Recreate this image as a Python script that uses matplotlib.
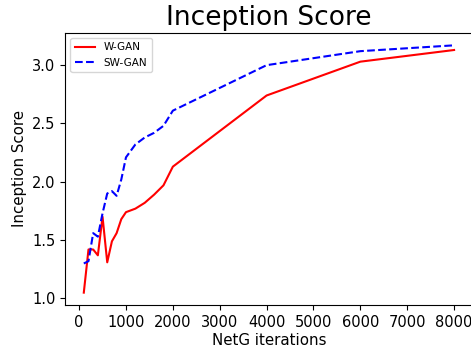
import matplotlib
matplotlib.use("Agg")
import matplotlib.pyplot as plt

# iterations
iters = [100, 200, 300, 400, 500, 600, 700, 800, 900, 1000,
         1200, 1400, 1600, 1800, 2000, 4000, 6000, 8000]
wgan = [1.05, 1.42, 1.42, 1.37, 1.70, 1.31, 1.49, 1.56, 1.68, 1.74,
        1.77, 1.82, 1.89, 1.97, 2.13, 2.74, 3.03, 3.13]
swgan = [1.30, 1.32, 1.56, 1.53, 1.73, 1.90, 1.92, 1.88, 2.02, 2.21,
         2.32, 2.38, 2.42, 2.48, 2.61, 3.00, 3.12, 3.17]

fig = plt.figure(figsize=(4.71, 3.47), dpi=100)
# the reference is cut on the right, so the axes run past the figure edge
ax = fig.add_axes([0.1386, 0.121, 0.8648, 0.784])
ax.plot(iters, wgan, 'r-', label='W-GAN')
ax.plot(iters, swgan, 'b--', label='SW-GAN')
ax.set_title('Inception Score', fontsize=19)
ax.set_xlabel('NetG iterations', fontsize=10.8, labelpad=2)
ax.set_ylabel('Inception Score', fontsize=10.8)
ax.tick_params(labelsize=10.5)
ax.set_xticks(range(0, 9000, 1000))
ax.legend(loc='upper left', fontsize=7.5)
plt.savefig('out.png')
